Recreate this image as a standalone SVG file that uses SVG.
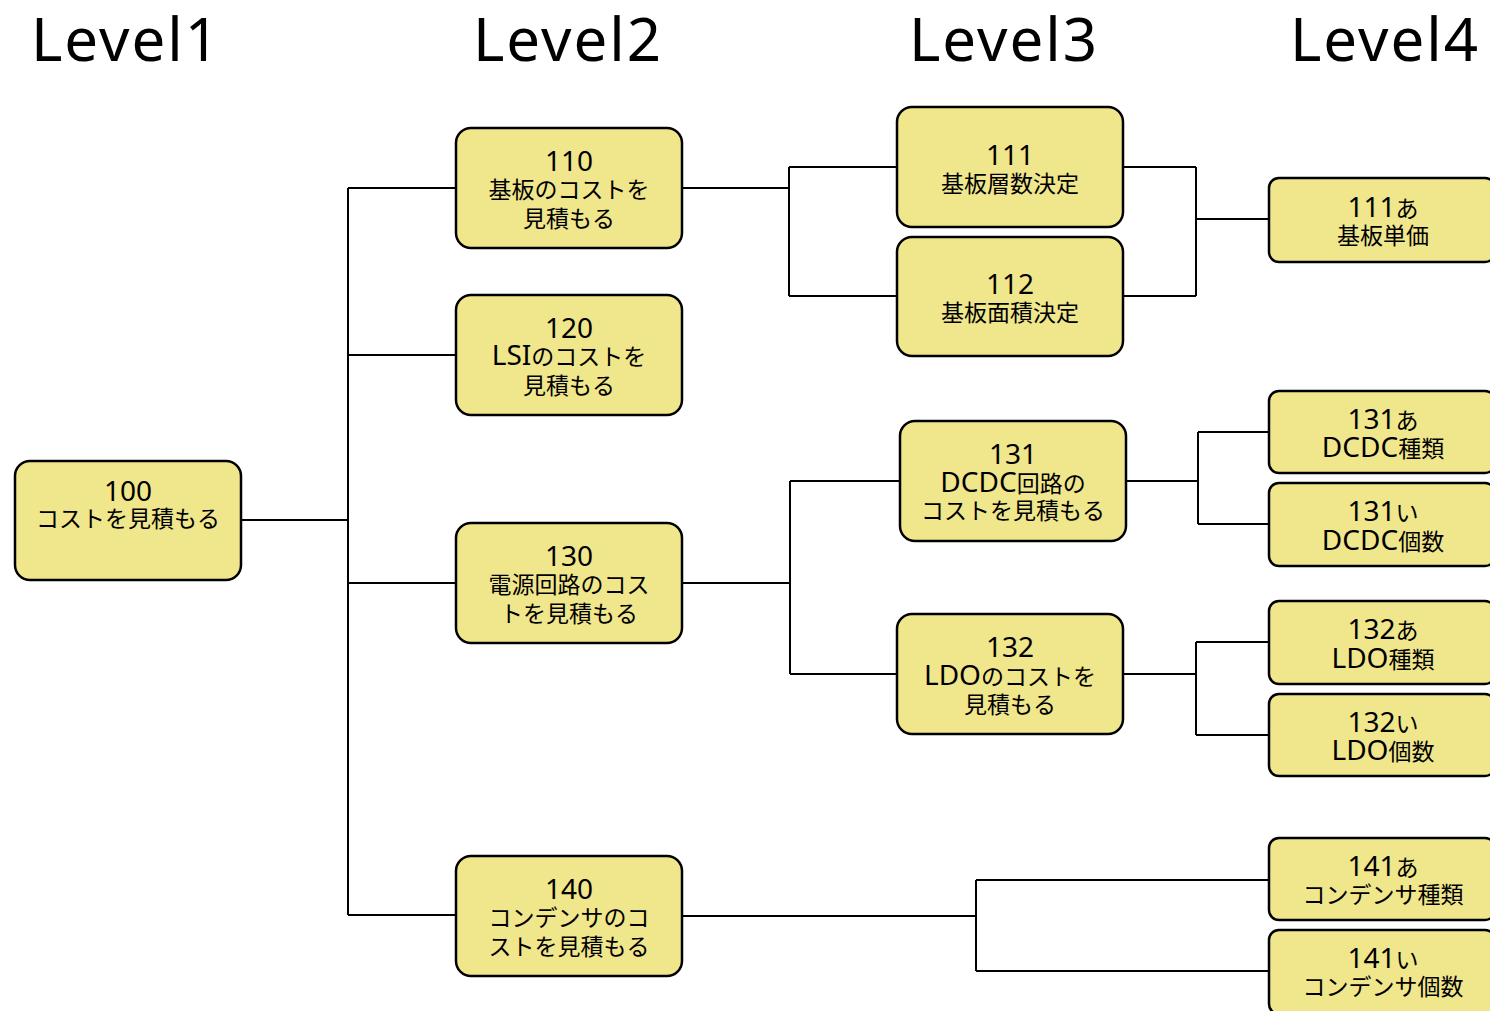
<svg xmlns="http://www.w3.org/2000/svg" width="1490" height="1011" viewBox="0 0 1490 1011">
<style>
.box{fill:#F0E68C;stroke:#000;stroke-width:2.5}
.t{font-family:"Noto Sans CJK JP","Noto Sans",sans-serif;font-size:23px;text-anchor:middle;fill:#000}
.L{font-family:"Noto Sans","Noto Sans CJK JP",sans-serif;font-size:28px}
.h{font-family:"Noto Sans","Noto Sans CJK JP",sans-serif;font-size:60px;letter-spacing:2px;text-anchor:middle;fill:#000}
.c{fill:none;stroke:#000;stroke-width:2}
</style>
<rect width="1490" height="1011" fill="#fff"/>
<g id="headers">
<text class="h" x="126" y="61">Level1</text>
<text class="h" x="568" y="61">Level2</text>
<text class="h" x="1004" y="61">Level3</text>
<text class="h" x="1385" y="61">Level4</text>
</g>
<g id="connectors">
<path class="c" d="M241,520H348M348,188V915M348,188H456M348,355H456M348,583H456M348,915H456"/>
<path class="c" d="M682,188H789M789,167V296M789,167H897M789,296H897"/>
<path class="c" d="M1123,167H1196M1123,296H1196M1196,167V296M1196,219H1269"/>
<path class="c" d="M682,583H790M790,481V674M790,481H900M790,674H897"/>
<path class="c" d="M1126,481H1198M1198,432V524M1198,432H1269M1198,524H1269"/>
<path class="c" d="M1123,674H1196M1196,642V735M1196,642H1269M1196,735H1269"/>
<path class="c" d="M682,916H976M976,880V971M976,880H1269M976,971H1269"/>
</g>
<g id="n100"><rect class="box" x="15" y="461" width="226" height="119" rx="15"/><text class="t"><tspan class="L" x="128" y="501">100</tspan><tspan x="128" y="527">コストを見積もる</tspan></text></g>
<g id="n110"><rect class="box" x="456" y="128" width="226" height="120" rx="15"/><text class="t"><tspan class="L" x="569" y="171">110</tspan><tspan x="569" y="198">基板のコストを</tspan><tspan x="569" y="227">見積もる</tspan></text></g>
<g id="n120"><rect class="box" x="456" y="295" width="226" height="120" rx="15"/><text class="t"><tspan class="L" x="569" y="338">120</tspan><tspan x="569" y="365"><tspan class="L">LSI</tspan>のコストを</tspan><tspan x="569" y="394">見積もる</tspan></text></g>
<g id="n130"><rect class="box" x="456" y="523" width="226" height="120" rx="15"/><text class="t"><tspan class="L" x="569" y="566">130</tspan><tspan x="569" y="593">電源回路のコス</tspan><tspan x="569" y="622">トを見積もる</tspan></text></g>
<g id="n140"><rect class="box" x="456" y="856" width="226" height="120" rx="15"/><text class="t"><tspan class="L" x="569" y="899">140</tspan><tspan x="569" y="926">コンデンサのコ</tspan><tspan x="569" y="955">ストを見積もる</tspan></text></g>
<g id="n111"><rect class="box" x="897" y="107" width="226" height="120" rx="15"/><text class="t"><tspan class="L" x="1010" y="165">111</tspan><tspan x="1010" y="192">基板層数決定</tspan></text></g>
<g id="n112"><rect class="box" x="897" y="237" width="226" height="119" rx="15"/><text class="t"><tspan class="L" x="1010" y="294">112</tspan><tspan x="1010" y="321">基板面積決定</tspan></text></g>
<g id="n131"><rect class="box" x="900" y="421" width="226" height="120" rx="15"/><text class="t"><tspan class="L" x="1013" y="464">131</tspan><tspan x="1013" y="492"><tspan class="L">DCDC</tspan>回路の</tspan><tspan x="1013" y="519">コストを見積もる</tspan></text></g>
<g id="n132"><rect class="box" x="897" y="614" width="226" height="120" rx="15"/><text class="t"><tspan class="L" x="1010" y="657">132</tspan><tspan x="1010" y="685"><tspan class="L">LDO</tspan>のコストを</tspan><tspan x="1010" y="713">見積もる</tspan></text></g>
<g id="n111a"><rect class="box" x="1269" y="178" width="226" height="84" rx="10"/><text class="t"><tspan x="1383" y="217"><tspan class="L">111</tspan>あ</tspan><tspan x="1383" y="244">基板単価</tspan></text></g>
<g id="n131a"><rect class="box" x="1269" y="391" width="226" height="82" rx="10"/><text class="t"><tspan x="1383" y="429"><tspan class="L">131</tspan>あ</tspan><tspan x="1383" y="457"><tspan class="L">DCDC</tspan>種類</tspan></text></g>
<g id="n131i"><rect class="box" x="1269" y="483" width="226" height="83" rx="10"/><text class="t"><tspan x="1383" y="521"><tspan class="L">131</tspan>い</tspan><tspan x="1383" y="550"><tspan class="L">DCDC</tspan>個数</tspan></text></g>
<g id="n132a"><rect class="box" x="1269" y="601" width="226" height="83" rx="10"/><text class="t"><tspan x="1383" y="639"><tspan class="L">132</tspan>あ</tspan><tspan x="1383" y="668"><tspan class="L">LDO</tspan>種類</tspan></text></g>
<g id="n132i"><rect class="box" x="1269" y="694" width="226" height="82" rx="10"/><text class="t"><tspan x="1383" y="732"><tspan class="L">132</tspan>い</tspan><tspan x="1383" y="760"><tspan class="L">LDO</tspan>個数</tspan></text></g>
<g id="n141a"><rect class="box" x="1269" y="838" width="226" height="82" rx="10"/><text class="t"><tspan x="1383" y="876"><tspan class="L">141</tspan>あ</tspan><tspan x="1383" y="903">コンデンサ種類</tspan></text></g>
<g id="n141i"><rect class="box" x="1269" y="930" width="226" height="84" rx="10"/><text class="t"><tspan x="1383" y="968"><tspan class="L">141</tspan>い</tspan><tspan x="1383" y="995">コンデンサ個数</tspan></text></g>
</svg>
